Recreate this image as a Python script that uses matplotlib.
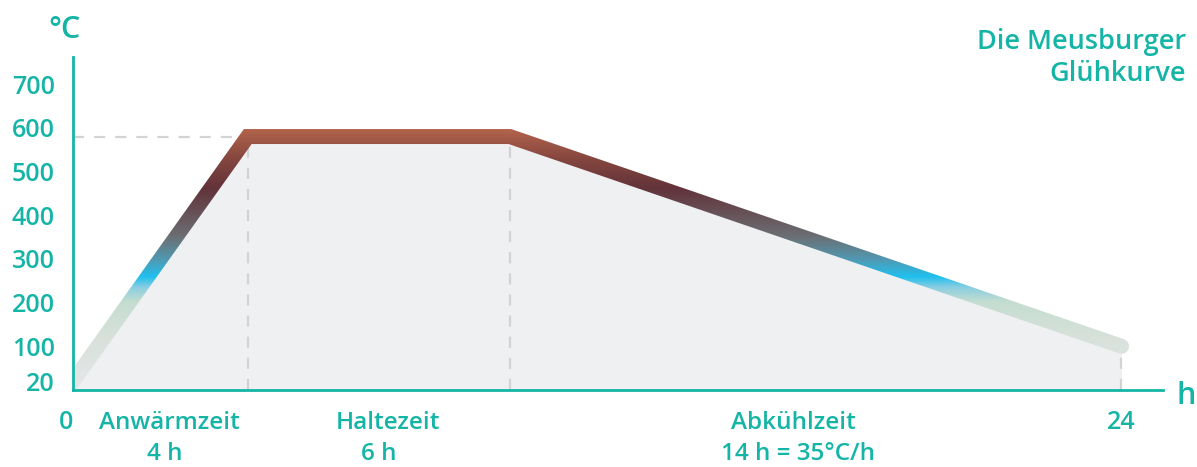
import numpy as np
import matplotlib.pyplot as plt
from matplotlib.colors import LinearSegmentedColormap
from matplotlib.patches import Polygon

# Glühkurve: Zeit (h) und Temperatur (°C)
zeit = [0, 4, 10, 24]
temp = [20, 580, 580, 100]

y_ticks = [20, 100, 200, 300, 400, 500, 600, 700]
phasen = ["Anwärmzeit", "Haltezeit", "Abkühlzeit"]
dauer = ["4 h", "6 h", "14 h = 35°C/h"]
phasen_x = [2.2, 7.2, 16.5]
dauer_x = [2.1, 7.0, 16.6]

teal = "#14b5a6"
plt.rcParams['font.family'] = ['Open Sans', 'DejaVu Sans']
plt.rcParams['font.weight'] = 'semibold'

fig = plt.figure(figsize=(11.97, 4.67), dpi=100)
ax = fig.add_axes([73/1197, 77/467, 1090/1197, 333/467])
ax.set_xlim(0, 24.95)
ax.set_ylim(0, 762)

# Fläche unter der Kurve
ax.fill_between(zeit, temp, 0, color="#eff0f2", zorder=1, lw=0)

# gestrichelte Hilfslinien
dash = dict(color="#d2d3d5", lw=1.6, dashes=(5, 4.5), zorder=2)
ax.plot([0, zeit[1]], [temp[1], temp[1]], **dash)
for i in [1, 2, 3]:
    ax.plot([zeit[i], zeit[i]], [0, temp[i] - 15], **dash)

# dickes Band mit Farbverlauf (nach Temperatur)
hw = 7.5  # halbe Linienbreite in Pixel
pts = ax.transData.transform(np.column_stack([zeit, temp]))
d0 = pts[1] - pts[0]
pts = np.vstack([pts[0] - d0 / np.linalg.norm(d0) * 30, pts[1:]])
segs = np.diff(pts, axis=0)
segs = segs / np.linalg.norm(segs, axis=1)[:, None]
norms = np.column_stack([-segs[:, 1], segs[:, 0]])
offs = []
for k in range(len(pts)):
    if k == 0:
        n = norms[0]
    elif k == len(pts) - 1:
        n = norms[-1]
    else:
        m = norms[k - 1] + norms[k]
        m = m / np.linalg.norm(m)
        n = m / np.dot(m, norms[k])
    offs.append(n * hw)
offs = np.array(offs)
upper = pts + offs
lower = pts - offs
# runde Kappe am Ende
a0 = np.arctan2(norms[-1][1], norms[-1][0])
ang = np.linspace(a0, a0 - np.pi, 20)
cap = pts[-1] + hw * np.column_stack([np.cos(ang), np.sin(ang)])
outline = np.vstack([upper, cap, lower[::-1]])
outline = ax.transData.inverted().transform(outline)
band = Polygon(outline, closed=True, transform=ax.transData, fc="none", ec="none")
ax.add_patch(band)

stops = [(0, "#e6e7e9"), (120, "#d7e1da"), (200, "#c5ddd0"), (235, "#86cde2"),
         (258, "#1fc0ee"), (295, "#4f9bb5"), (350, "#6b6f74"), (460, "#62333a"),
         (530, "#86473f"), (600, "#b5654c"), (762, "#b5654c")]
cmap = LinearSegmentedColormap.from_list("gluehen", [(v / 762, c) for v, c in stops])
grad = np.linspace(0, 762, 500).reshape(-1, 1)
img = ax.imshow(grad, extent=[0, 24.95, 0, 762], origin="lower", aspect="auto",
                cmap=cmap, vmin=0, vmax=762, zorder=3)
img.set_clip_path(band)

# Achsen
for s in ["top", "right"]:
    ax.spines[s].set_visible(False)
for s in ["left", "bottom"]:
    ax.spines[s].set_color(teal)
    ax.spines[s].set_linewidth(2)
    ax.spines[s].set_zorder(5)
ax.set_xticks([])
ax.set_yticks(y_ticks)
ax.set_yticklabels([str(v) for v in y_ticks])
ax.tick_params(axis="y", length=0, pad=13, labelsize=18, labelcolor=teal)

# Beschriftungen unten
fs = 17.5
ax.text(-0.15, -0.098, "0", transform=ax.get_xaxis_transform(), ha="center", va="center",
        color=teal, fontsize=fs + 0.5)
ax.text(24, -0.098, "24", transform=ax.get_xaxis_transform(), ha="center", va="center",
        color=teal, fontsize=fs + 0.5)
for x, t in zip(phasen_x, phasen):
    ax.text(x, -0.098, t, transform=ax.get_xaxis_transform(), ha="center", va="center",
            color=teal, fontsize=fs)
for x, t in zip(dauer_x, dauer):
    ax.text(x, -0.21, t, transform=ax.get_xaxis_transform(), ha="center", va="baseline",
            color=teal, fontsize=fs)

fig.text(64/1197, 1 - 30/467, "°C", ha="center", va="center", color=teal, fontsize=22)
fig.text(1186/1197, 1 - 396/467, "h", ha="center", va="center", color=teal, fontsize=22)
fig.text(1186/1197, 1 - 58/467, "Die Meusburger\nGlühkurve", ha="right", va="center",
         color=teal, fontsize=19.5, linespacing=1.2)

fig.savefig("out.png", dpi=100)
